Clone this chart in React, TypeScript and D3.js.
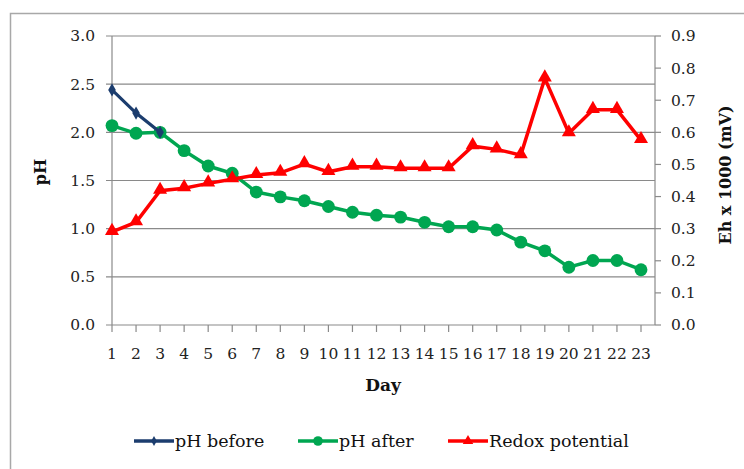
import * as d3 from 'd3'

// days on the x axis
const days = [1, 2, 3, 4, 5, 6, 7, 8, 9, 10, 11, 12, 13, 14, 15, 16, 17, 18, 19, 20, 21, 22, 23]
const phBefore = [2.44, 2.2, 2.0]
const phAfter = [2.07, 1.99, 2.0, 1.81, 1.65, 1.575, 1.38, 1.33, 1.29, 1.23, 1.17, 1.14, 1.12, 1.066, 1.02, 1.02, 0.986, 0.86, 0.77, 0.6, 0.67, 0.67, 0.574]
const redox = [0.29, 0.32, 0.418, 0.426, 0.441, 0.454, 0.467, 0.474, 0.501, 0.477, 0.493, 0.493, 0.488, 0.488, 0.488, 0.557, 0.547, 0.529, 0.768, 0.597, 0.67, 0.67, 0.576]
const phTicks = [0, 0.5, 1, 1.5, 2, 2.5, 3]
const ehTicks = [0, 0.1, 0.2, 0.3, 0.4, 0.5, 0.6, 0.7, 0.8, 0.9]

const BLUE = '#1c3d6e'
const GREEN = '#00a651'
const RED = '#ff0000'
const GRID = '#8a8a8a'
const FONT = '"DejaVu Serif", serif'

const plot = { left: 112, right: 655, top: 36, bottom: 325 }

export default function App() {
  const x = d3.scaleLinear().domain([1, 23]).range([112, 641])
  const yL = d3.scaleLinear().domain([0, 3]).range([plot.bottom, plot.top])
  const yR = d3.scaleLinear().domain([0, 0.9]).range([plot.bottom, plot.top])

  const lineL = d3.line<number>().x((_, i) => x(days[i])).y(d => yL(d))
  const lineR = d3.line<number>().x((_, i) => x(days[i])).y(d => yR(d))

  const diamond = d3.symbol().type(d3.symbolDiamond).size(50)()
  const circle = d3.symbol().type(d3.symbolCircle).size(130)()
  const triangle = d3.symbol().type(d3.symbolTriangle).size(85)()

  const legend = [
    { label: 'pH before', color: BLUE, sym: diamond, x0: 134 },
    { label: 'pH after', color: GREEN, sym: circle, x0: 298 },
    { label: 'Redox potential', color: RED, sym: triangle, x0: 448 }
  ]

  return (
    <svg width={744} height={469} style={{ position: 'absolute', left: 0, top: 0, background: '#fff' }} fontFamily={FONT}>
      <rect x={10.5} y={13.5} width={800} height={500} fill="#fff" stroke="#a8a8a8" strokeWidth={1.5} />

      {/* grid + left ticks */}
      {phTicks.map(t => (
        <g key={'g' + t}>
          <line x1={106} x2={plot.right} y1={yL(t)} y2={yL(t)} stroke={GRID} strokeWidth={1.2} />
          <text x={95} y={yL(t)} dy="0.35em" textAnchor="end" fontSize={15.5} fill="#222">
            {t.toFixed(1)}
          </text>
        </g>
      ))}

      {/* right axis */}
      <line x1={plot.right} x2={plot.right} y1={plot.top} y2={plot.bottom} stroke={GRID} strokeWidth={1.2} />
      {ehTicks.map(t => (
        <g key={'r' + t}>
          <line x1={plot.right} x2={661} y1={yR(t)} y2={yR(t)} stroke={GRID} strokeWidth={1.2} />
          <text x={671} y={yR(t)} dy="0.35em" fontSize={15.5} fill="#222">
            {t.toFixed(1)}
          </text>
        </g>
      ))}

      {/* left axis */}
      <line x1={plot.left} x2={plot.left} y1={plot.top} y2={plot.bottom} stroke={GRID} strokeWidth={1.2} />

      {/* x axis ticks */}
      {days.map(d => (
        <g key={'x' + d}>
          <line x1={x(d)} x2={x(d)} y1={plot.bottom} y2={plot.bottom + 7} stroke={GRID} strokeWidth={1.2} />
          <text x={x(d)} y={359} textAnchor="middle" fontSize={15.5} fill="#222">
            {d}
          </text>
        </g>
      ))}

      {/* axis titles */}
      <text transform="translate(46,172) rotate(-90)" textAnchor="middle" fontSize={16} fontWeight="bold" fill="#111">
        pH
      </text>
      <text x={383} y={391} textAnchor="middle" fontSize={17} fontWeight="bold" fill="#111">
        Day
      </text>
      <text transform="translate(731,175) rotate(-90)" textAnchor="middle" fontSize={16} fontWeight="bold" fill="#111">
        Eh x 1000 (mV)
      </text>

      {/* series */}
      <path d={lineL(phAfter) || ''} fill="none" stroke={GREEN} strokeWidth={3.5} />
      {phAfter.map((v, i) => (
        <path key={'c' + i} d={circle || ''} transform={`translate(${x(days[i])},${yL(v)})`} fill={GREEN} />
      ))}
      <path d={lineL(phBefore) || ''} fill="none" stroke={BLUE} strokeWidth={3.2} />
      {phBefore.map((v, i) => (
        <path key={'d' + i} d={diamond || ''} transform={`translate(${x(days[i])},${yL(v)})`} fill={BLUE} />
      ))}
      <path d={lineR(redox) || ''} fill="none" stroke={RED} strokeWidth={3.5} strokeLinejoin="miter" />
      {redox.map((v, i) => (
        <path key={'t' + i} d={triangle || ''} transform={`translate(${x(days[i])},${yR(v) - 1})`} fill={RED} />
      ))}

      {/* legend */}
      {legend.map(l => (
        <g key={l.label}>
          <line x1={l.x0} x2={l.x0 + 40} y1={441} y2={441} stroke={l.color} strokeWidth={3.5} />
          <path d={l.sym || ''} transform={`translate(${l.x0 + 20},441) scale(0.75)`} fill={l.color} />
          <text x={l.x0 + 41} y={447} fontSize={17.5} fill="#111">
            {l.label}
          </text>
        </g>
      ))}
    </svg>
  )
}
